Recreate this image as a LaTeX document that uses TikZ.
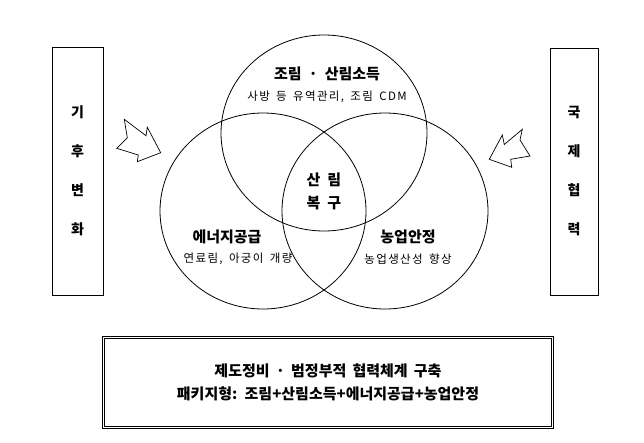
\documentclass[tikz,border=0pt]{standalone}
\usepackage{fontspec}
\setmainfont{Noto Sans CJK KR}
\newfontfamily\krsub[LetterSpace=12,WordSpace=1.6]{Noto Sans CJK KR}
\newfontfamily\krwide[WordSpace=1.8]{Noto Sans CJK KR}
\begin{document}
\begin{tikzpicture}[x=1pt,y=-1pt,
  ring/.style={draw=black,line width=0.8pt},
  sidebox/.style={draw=black,line width=0.9pt,fill=white,inner sep=0pt,align=center,
    font=\fontsize{14}{39}\selectfont\bfseries},
  arrowshape/.style={draw=black,line width=0.7pt,fill=white,line join=miter},
  titletext/.style={font=\fontsize{15}{18}\selectfont\bfseries,inner sep=0pt},
  subtext/.style={font=\krsub\fontsize{11.5}{14}\selectfont,inner sep=0pt},
  centertext/.style={font=\fontsize{15}{23}\selectfont\bfseries,inner sep=0pt,align=center},
  basebox/.style={draw=black,line width=0.9pt,double,double distance=1.6pt,inner sep=0pt,
    align=center,font=\krwide\fontsize{15}{23}\selectfont\bfseries}]
\useasboundingbox (0,0) rectangle (644,442);
% circles
\draw[ring] (324,133) ellipse [x radius=103, y radius=98];
\draw[ring] (263,211) ellipse [x radius=103, y radius=98];
\draw[ring] (385,211) ellipse [x radius=103, y radius=98];
% circle texts
\node[titletext] (t1) at (327,74) {조림\hspace{7pt}·\hspace{7pt}산림소득};
\node[subtext] (s1) at (327,97) {사방 등 유역관리, 조림 CDM};
\node[centertext] (core) at (324,191) {산\hspace{7pt}림\\복\hspace{7pt}구};
\node[titletext] (t2) at (227,237) {에너지공급};
\node[subtext] (s2) at (238,259) {연료림, 아궁이 개량};
\node[titletext] (t3) at (408,237) {농업안정};
\node[subtext] (s3) at (408,259) {농업생산성 향상};
% side boxes
\node[sidebox, minimum width=51pt, minimum height=248pt] (climate) at (77.5,171) {기\\후\\변\\화};
\node[sidebox, minimum width=48pt, minimum height=247pt] (intl) at (574,171.5) {국\\제\\협\\력};
% block arrows
\draw[arrowshape] (124.3,119.3) -- (146,135.7) -- (147.3,127.3) -- (160.7,152.7)
  -- (137.3,161.7) -- (138.3,155) -- (116.7,148.3) -- (127.3,137.7) -- cycle;
\draw[arrowshape] (489.3,159.3) -- (502.3,135) -- (504.3,144.5) -- (522.3,129.3)
  -- (520,140) -- (530,156) -- (510.7,159.3) -- (511.7,167.3) -- cycle;
% bottom box
\node[basebox, minimum width=449pt, minimum height=90pt] (base) at (328,382.5)
  {제도정비 · 범정부적 협력체계 구축\\패키지형: 조림+산림소득+에너지공급+농업안정};
\end{tikzpicture}
\end{document}
